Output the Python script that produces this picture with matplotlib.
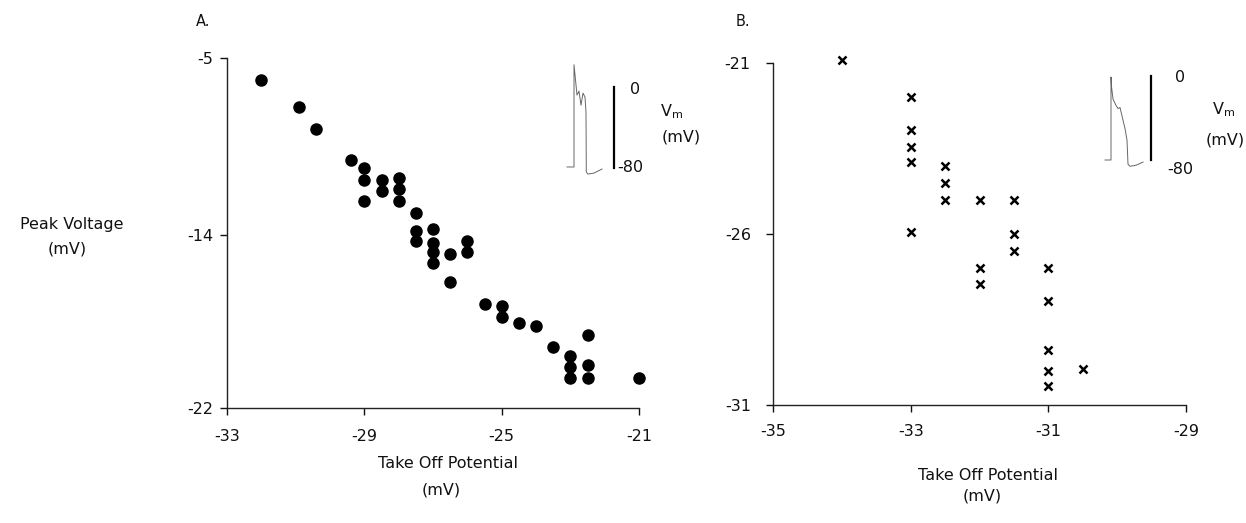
import numpy as np
import matplotlib.pyplot as plt

plt.rcParams['font.family'] = 'DejaVu Sans'
plt.rcParams['axes.unicode_minus'] = False

# Panel A: take off potential vs peak voltage (mV), filled circles
a_takeoff = [-32, -30.9, -30.4, -29.4, -29, -29, -29, -28.5, -28.5, -28, -28, -28,
             -27.5, -27.5, -27.5, -27, -27, -27, -27, -26.5, -26, -26, -26.5,
             -25.5, -25, -25, -24.5, -24, -23.5, -23, -23, -23, -22.5, -22.5, -22.5, -21]
a_peak = [-6.1, -7.5, -8.6, -10.2, -10.6, -11.2, -12.3, -11.2, -11.8, -11.1, -11.7, -12.3,
          -12.9, -13.8, -14.3, -13.7, -14.4, -14.8, -15.3, -14.9, -14.3, -14.8, -16.2,
          -17.2, -17.3, -17.8, -18.1, -18.2, -19.2, -19.6, -20.1, -20.6, -18.65, -20.0, -20.6, -20.6]
a_xticks = [-33, -29, -25, -21]
a_yticks = [-22, -14, -5]

# Panel B: crosses
b_takeoff = [-34, -33, -33, -33, -33, -33, -32.5, -32.5, -32.5, -32, -32, -32,
             -31.5, -31.5, -31.5, -31, -31, -31, -31, -31, -30.5]
b_peak = [-20.9, -22, -22.95, -23.45, -23.9, -25.95, -24, -24.5, -25, -25, -27, -27.45,
          -25, -26, -26.5, -27, -27.95, -29.4, -30, -30.45, -29.95]
b_xticks = [-35, -33, -31, -29]
b_yticks = [-31, -26, -21]

# inset action potential traces (time in ms, Vm in mV)
a_trace_t = [7, 14, 14, 15, 17, 19, 21, 23, 25, 26, 26.3, 28, 34, 42]
a_trace_mv = [-79, -79, 22, 12, -8, -4, -18, -6, -10, -25, -84, -86, -85, -81]
b_trace_t = [5, 11, 11, 11.5, 13, 16, 18, 20, 22, 25, 27, 28, 30, 36, 43]
b_trace_mv = [-80, -80, -1, -10, -22, -28, -31, -30, -38, -50, -61, -84, -86, -85, -82]

W, H = 1246, 523
fig = plt.figure(figsize=(W / 100, H / 100), dpi=100)


def px(x, y):
    return x / W, 1 - y / H


ink = '#111111'
fs = 11.5

# the printed y axis of panel A is not evenly spaced between its ticks
_yv = [-100, -22, -14, -5, 100]
_yp = [-78 * 21.625, 0, 173, 349, 349 + 105 * 19.56]


def a_fwd(y):
    return np.interp(y, _yv, _yp)


def a_inv(p):
    return np.interp(p, _yp, _yv)


def style(ax, xpad, ypad):
    for s in ['top', 'right']:
        ax.spines[s].set_visible(False)
    for s in ['left', 'bottom']:
        ax.spines[s].set_linewidth(1.0)
        ax.spines[s].set_color('#222222')
    ax.tick_params(axis='x', direction='out', length=5, width=1, pad=xpad,
                   labelsize=fs, colors=ink)
    ax.tick_params(axis='y', direction='out', length=5, width=1, pad=ypad,
                   labelsize=fs, colors=ink)
    ax.set_facecolor('none')


# Panel A
ax_a = fig.add_axes([227 / W, 1 - 408 / H, 412 / W, 350 / H])
ax_a.set_yscale('function', functions=(a_fwd, a_inv))
ax_a.plot(a_takeoff, a_peak, 'o', color='black', markersize=8, clip_on=False)
ax_a.set_xlim(-33, -21)
ax_a.set_ylim(-22, -5)
ax_a.set_xticks(a_xticks)
ax_a.set_yticks(a_yticks)
ax_a.set_xticklabels([str(v) for v in a_xticks])
ax_a.set_yticklabels([str(v) for v in a_yticks])
style(ax_a, 10, 5)

# Panel B
ax_b = fig.add_axes([773 / W, 1 - 405 / H, 413 / W, 342 / H])
ax_b.plot(b_takeoff, b_peak, 'x', color='black', markersize=6, markeredgewidth=1.8,
          clip_on=False)
ax_b.set_xlim(-35, -29)
ax_b.set_ylim(-31, -21)
ax_b.set_xticks(b_xticks)
ax_b.set_yticks(b_yticks)
ax_b.set_xticklabels([str(v) for v in b_xticks])
ax_b.set_yticklabels([str(v) for v in b_yticks])
style(ax_b, 9, 11)

# insets
ins_a = fig.add_axes([560 / W, 1 - 180 / H, 65 / W, 130 / H])
ins_a.plot(a_trace_t, a_trace_mv, color='#666666', lw=0.7)
ins_a.plot([54, 54], [0, -80], color='black', lw=1.6)
ins_a.set_xlim(0, 65)
ins_a.set_ylim((87 - 180) * 80 / 81, (87 - 50) * 80 / 81)
ins_a.axis('off')

ins_b = fig.add_axes([1100 / W, 1 - 180 / H, 60 / W, 130 / H])
ins_b.plot(b_trace_t, b_trace_mv, color='#666666', lw=0.7)
ins_b.plot([51, 51], [0, -80], color='black', lw=1.6)
ins_b.set_xlim(0, 60)
ins_b.set_ylim((76 - 180) * 80 / 84, (76 - 50) * 80 / 84)
ins_b.axis('off')

# inset scale labels
fig.text(*px(635, 90), '0', ha='center', va='center', fontsize=fs, color=ink)
fig.text(*px(617, 168), '-80', ha='left', va='center', fontsize=fs, color=ink)
fig.text(*px(660, 112), r'V$_\mathrm{m}$', ha='left', va='center', fontsize=fs, color=ink)
fig.text(*px(681, 137), '(mV)', ha='center', va='center', fontsize=fs, color=ink)
fig.text(*px(1180, 78), '0', ha='center', va='center', fontsize=fs, color=ink)
fig.text(*px(1167, 169), '-80', ha='left', va='center', fontsize=fs, color=ink)
fig.text(*px(1212, 110), r'V$_\mathrm{m}$', ha='left', va='center', fontsize=fs, color=ink)
fig.text(*px(1225, 140), '(mV)', ha='center', va='center', fontsize=fs, color=ink)

# panel letters and axis titles
fig.text(*px(203, 22), 'A.', ha='center', va='center', fontsize=10.5, color=ink)
fig.text(*px(743, 21), 'B.', ha='center', va='center', fontsize=10.5, color=ink)
fig.text(*px(72, 225), 'Peak Voltage', ha='center', va='center', fontsize=fs, color=ink)
fig.text(*px(67, 249), '(mV)', ha='center', va='center', fontsize=fs, color=ink)
fig.text(*px(448, 463), 'Take Off Potential', ha='center', va='center', fontsize=fs, color=ink)
fig.text(*px(441, 490), '(mV)', ha='center', va='center', fontsize=fs, color=ink)
fig.text(*px(988, 475), 'Take Off Potential', ha='center', va='center', fontsize=fs, color=ink)
fig.text(*px(982, 496), '(mV)', ha='center', va='center', fontsize=fs, color=ink)

fig.savefig('out.png', dpi=100)
